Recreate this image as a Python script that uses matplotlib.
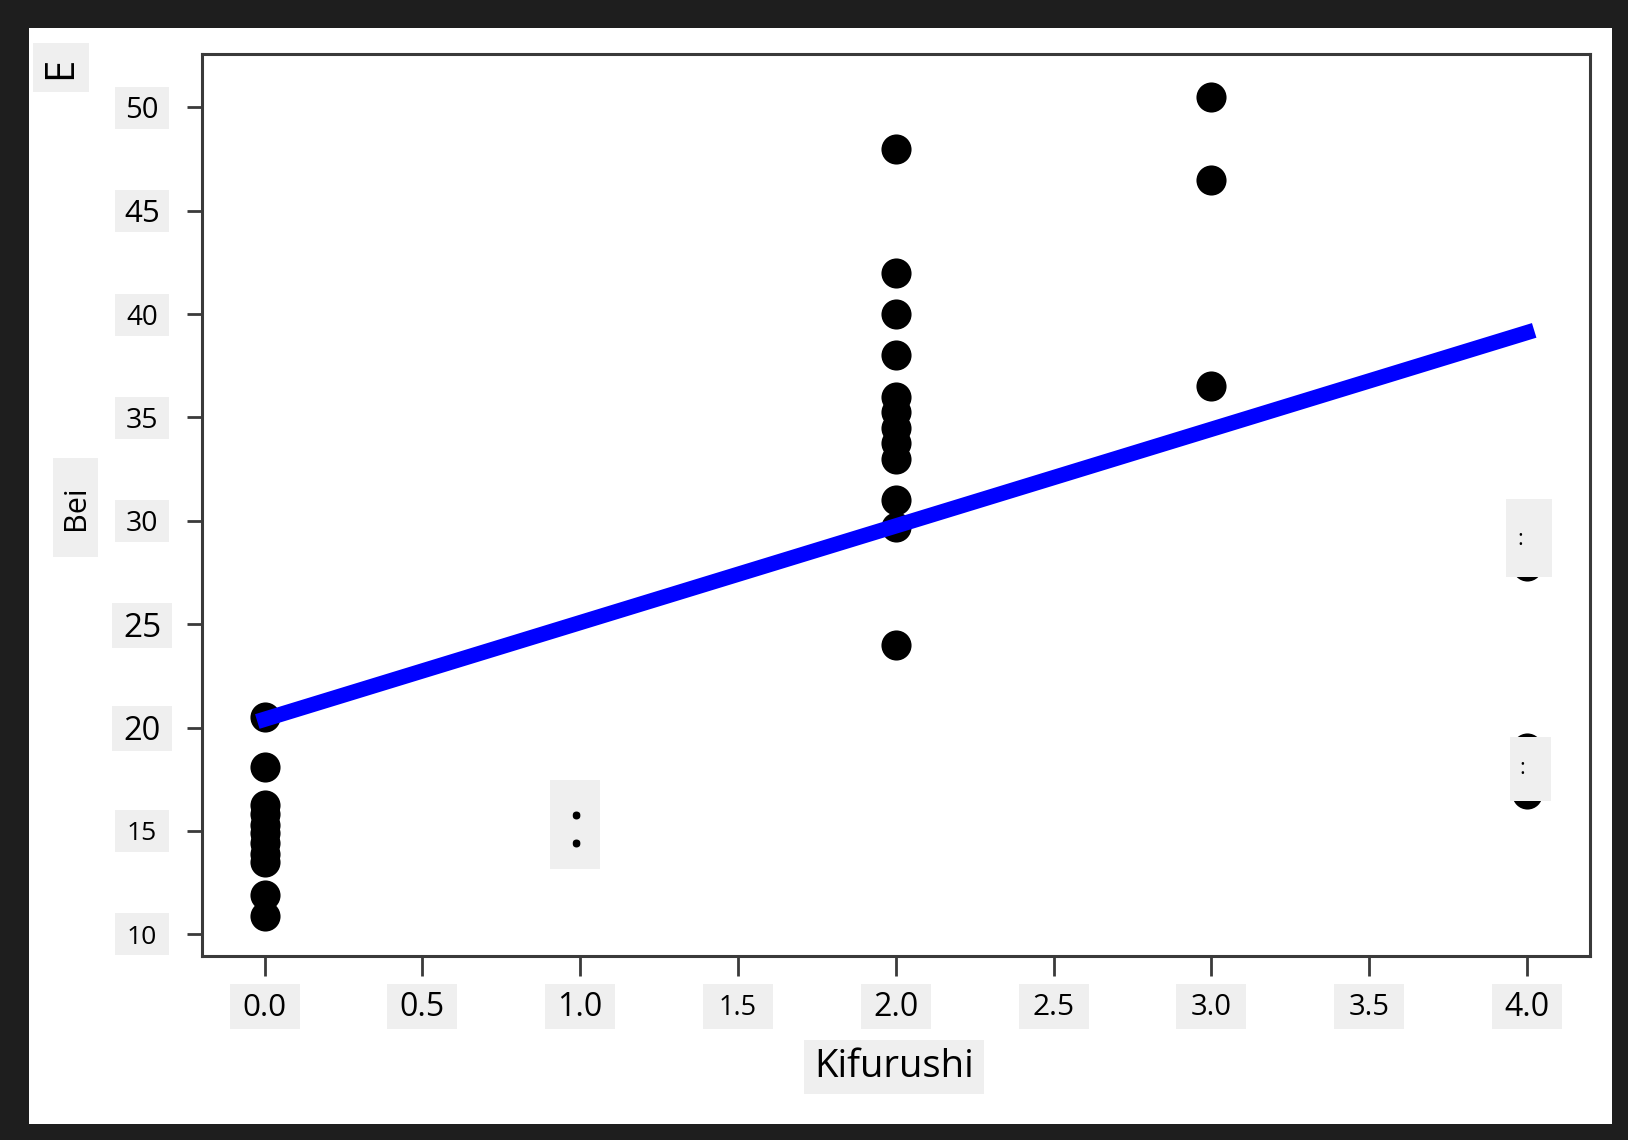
import matplotlib
matplotlib.use("Agg")
import matplotlib.pyplot as plt
from matplotlib.path import Path
from matplotlib.patches import Rectangle

# data
kifurushi_0 = [20.5, 18.1, 16.25, 15.8, 15.3, 14.9, 14.4, 13.9, 13.5, 11.9, 10.9]
kifurushi_1 = [15.5, 14.5]
kifurushi_2 = [48.0, 42.0, 40.0, 38.0, 36.0, 35.25, 34.5, 33.75, 33.0, 31.0, 29.7, 24.0]
kifurushi_3 = [50.5, 46.5, 36.5]
kifurushi_4 = [27.8, 19.0, 16.8]

fit_x = [0.0, 4.0]
fit_y = [20.4, 39.1]

xticks = [0.0, 0.5, 1.0, 1.5, 2.0, 2.5, 3.0, 3.5, 4.0]
xtick_labels = ["0.0", "0.5", "1.0", "1.5", "2.0", "2.5", "3.0", "3.5", "4.0"]
yticks = [10, 15, 20, 25, 30, 35, 40, 45, 50]
ytick_labels = ["10", "15", "20", "25", "30", "35", "40", "45", "50"]

# label styles (the overlay text boxes are not all the same size)
xtick_sizes = [22.5, 23, 23, 19.5, 23, 21.5, 21, 21, 23]
ytick_sizes = [19, 19, 23.5, 24, 20.5, 20.5, 20, 22.5, 21]

GRAY = "#efefef"
DARK = "#1e1e1e"
plt.rcParams["font.family"] = ["Open Sans", "DejaVu Sans"]


def gray_box(w, h, dx=0, dy=0):
    # fixed size box (pixels) around a text, centred on it
    def style(x0, y0, width, height, mutation_size):
        cx = x0 + width / 2 + dx
        cy = y0 + height / 2 + dy
        return Path([(cx - w / 2, cy - h / 2), (cx + w / 2, cy - h / 2),
                     (cx + w / 2, cy + h / 2), (cx - w / 2, cy + h / 2),
                     (cx - w / 2, cy - h / 2)], closed=True)
    return style


def box_props(w, h, dx=0, dy=0):
    return dict(boxstyle=gray_box(w, h, dx, dy), facecolor=GRAY, edgecolor="none")


W, H = 1628, 1140
fig = plt.figure(figsize=(W / 100, H / 100), dpi=100, facecolor=DARK)
fig.patches.append(Rectangle((29 / W, 16 / H), (1612 - 29) / W, (1124 - 28) / H,
                             transform=fig.transFigure, facecolor="white",
                             edgecolor="none", zorder=-1))

ax = fig.add_axes([201.5 / W, (H - 956) / H, (1590 - 201.5) / W, (956 - 53.5) / H])

groups = [kifurushi_0, kifurushi_1, kifurushi_2, kifurushi_3, kifurushi_4]
for pkg, prices in enumerate(groups):
    ax.scatter([pkg] * len(prices), prices, s=470, color="black", linewidths=0, zorder=2)

ax.plot(fit_x, fit_y, color="blue", linewidth=11, zorder=3)

ax.set_xlim(-0.2, 4.2)
ax.set_ylim(8.95, 52.6)

for side in ["left", "right", "top", "bottom"]:
    ax.spines[side].set_color("#3a3a3a")
    ax.spines[side].set_linewidth(2.2)

ax.set_xticks(xticks, xtick_labels)
ax.set_yticks(yticks, ytick_labels)
ax.tick_params(axis="x", length=14.4, width=2, color="#3a3a3a", pad=23)
ax.tick_params(axis="y", length=10.8, width=2, color="#3a3a3a", pad=32)

for lbl, fs in zip(ax.get_xticklabels(), xtick_sizes):
    lbl.set_fontsize(fs)
    lbl.set_va("center")
    lbl.set_bbox(box_props(70, 45, 0, 1))
for lbl, fs in zip(ax.get_yticklabels(), ytick_sizes):
    lbl.set_fontsize(fs)
    lbl.set_ha("center")
    lbl.set_bbox(box_props(60 if fs > 23 else 54, 45 if fs > 23 else 42, 0, 3))

ax.set_xlabel("Kifurushi", fontsize=27.5, bbox=box_props(180, 54))
ax.xaxis.label.set_va("center")
ax.xaxis.set_label_coords(0.4987, -0.123)

ax.set_ylabel("Bei", fontsize=22, bbox=box_props(99, 45))
ax.yaxis.label.set_va("center")
ax.yaxis.set_label_coords(-0.0907, 0.4964)

fig.text(61 / W, 1 - 67.5 / H, "E", rotation=90, ha="center", va="center",
         fontsize=29, bbox=box_props(49, 56))

# gray overlay patches with ":" covering some points
ax.text(0.985, 15.0, ":", fontsize=47, ha="center", va="center", zorder=5,
        bbox=box_props(50, 89, 0, 6.7))
ax.text(3.98, 29.1, ":", fontsize=15.6, ha="center", va="center", zorder=5,
        bbox=box_props(46, 78, 8.3, 1.3))
ax.text(3.985, 18.0, ":", fontsize=15.6, ha="center", va="center", zorder=5,
        bbox=box_props(41, 64, 8.3, 0))

fig.savefig("out.png", dpi=100, facecolor=fig.get_facecolor())
